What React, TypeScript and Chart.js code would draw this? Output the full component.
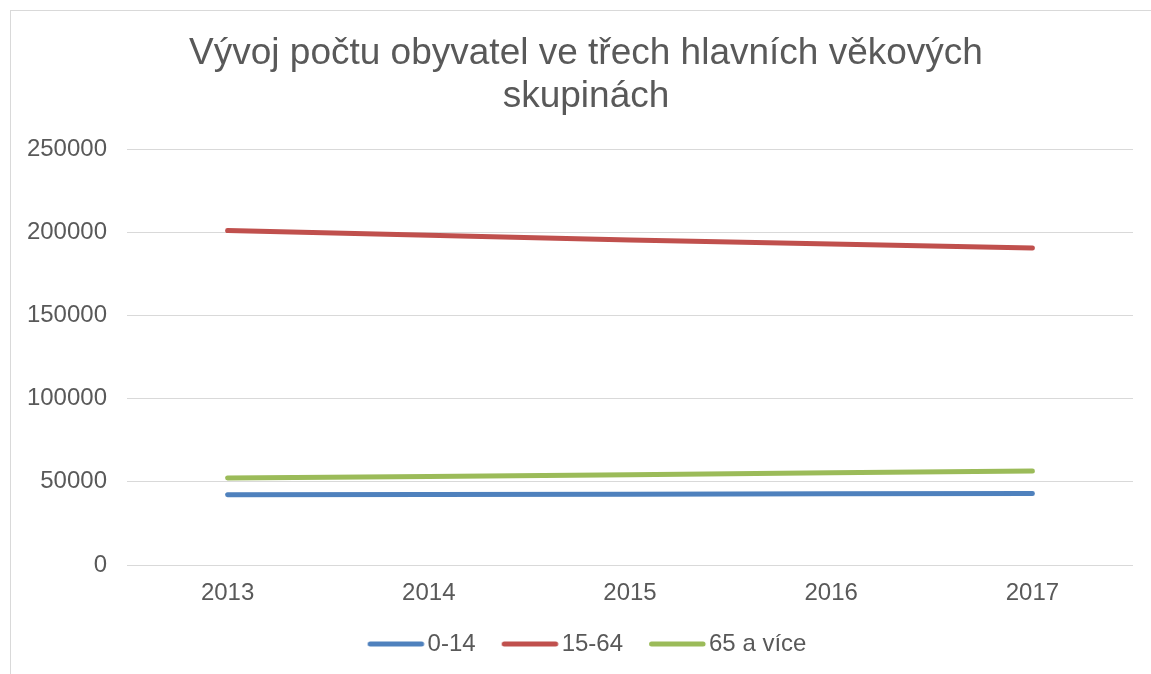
import React, { useEffect, useRef } from "react";
import { Chart, registerables } from "chart.js";

Chart.register(...registerables);

const categories = ["2013", "2014", "2015", "2016", "2017"];
const seriesNames = ["0-14", "15-64", "65 a více"];
const age0to14 = [42200, 42400, 42600, 42800, 43000];
const age15to64 = [201000, 198200, 195400, 193000, 190500];
const age65plus = [52300, 53200, 54200, 55400, 56500];
const seriesColors = ["#4F81BD", "#C0504D", "#9BBB59"];
const titleLines = ["Vývoj počtu obyvatel ve třech hlavních věkových", "skupinách"];

const FONT = "'Liberation Sans', Arial, Helvetica, sans-serif";
const TEXT = "#595959";

function makeLegendLine(color: string): HTMLCanvasElement {
  const c = document.createElement("canvas");
  c.width = 72;
  c.height = 10;
  const ctx = c.getContext("2d")!;
  ctx.strokeStyle = color;
  ctx.lineWidth = 5;
  ctx.lineCap = "round";
  ctx.beginPath();
  ctx.moveTo(15.5, 5);
  ctx.lineTo(67, 5);
  ctx.stroke();
  return c;
}

const unclipYLabels = {
  id: "unclipYLabels",
  afterLayout(chart: any) {
    const y = chart.scales.y;
    if (y) y.left = 0;
  },
};

export default function App() {
  const ref = useRef<HTMLCanvasElement | null>(null);

  useEffect(() => {
    if (!ref.current) return;
    const legendImgs = seriesColors.map(makeLegendLine);
    const values = [age0to14, age15to64, age65plus];
    const chart = new Chart(ref.current, {
      type: "line",
      data: {
        labels: categories,
        datasets: seriesNames.map((name, i) => ({
          label: name,
          data: values[i],
          borderColor: seriesColors[i],
          backgroundColor: seriesColors[i],
          borderWidth: 5,
          borderCapStyle: "round" as const,
          borderJoinStyle: "round" as const,
          pointRadius: 0,
          pointHoverRadius: 0,
          tension: 0,
          fill: false,
        })),
      },
      plugins: [unclipYLabels],
      options: {
        responsive: false,
        animation: false,
        layout: { padding: { left: 28, right: 28, top: 0, bottom: 43 } },
        plugins: {
          tooltip: { enabled: false },
          title: {
            display: true,
            text: titleLines,
            color: TEXT,
            font: { family: FONT, size: 37, weight: "normal", lineHeight: 1.15 },
            padding: { top: 22, bottom: 31 },
          },
          legend: {
            position: "bottom",
            labels: {
              color: TEXT,
              font: { family: FONT, size: 24 },
              usePointStyle: true,
              pointStyleWidth: 50,
              boxHeight: 10,
              padding: 24,
              generateLabels: (ch: any) => {
                const items = Chart.defaults.plugins.legend.labels.generateLabels(ch);
                return items.map((it: any, i: number) => ({ ...it, pointStyle: legendImgs[i] }));
              },
            },
          },
        },
        scales: {
          x: {
            offset: true,
            grid: { display: false, drawTicks: false },
            border: { display: false },
            ticks: { color: TEXT, font: { family: FONT, size: 24 }, padding: 14 },
            afterFit: (scale: any) => {
              scale.height = 43;
            },
          },
          y: {
            min: 0,
            max: 250000,
            grid: { color: "#d9d9d9", lineWidth: 1, drawTicks: false },
            border: { display: false },
            ticks: {
              stepSize: 50000,
              color: TEXT,
              font: { family: FONT, size: 24 },
              padding: 20,
              callback: (v: any) => String(v),
            },
            afterFit: (scale: any) => {
              scale.width = 88;
            },
          },
        },
      },
    });
    return () => chart.destroy();
  }, []);

  return (
    <div
      style={{
        position: "fixed",
        left: 0,
        top: 0,
        width: 1151,
        height: 674,
        overflow: "hidden",
        background: "#ffffff",
      }}
    >
      <div
        style={{
          position: "absolute",
          left: 10,
          top: 10,
          width: 1152,
          height: 700,
          border: "1px solid #d9d9d9",
          boxSizing: "border-box",
          background: "#ffffff",
        }}
      >
        <canvas ref={ref} width={1150} height={698} style={{ display: "block" }} />
      </div>
    </div>
  );
}
